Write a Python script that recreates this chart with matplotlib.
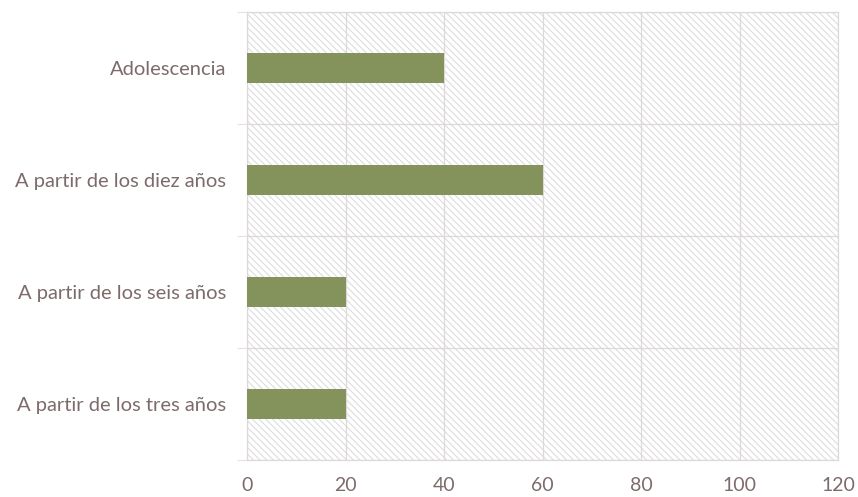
import numpy as np
import matplotlib
matplotlib.use('Agg')
import matplotlib.pyplot as plt
from matplotlib.patches import Rectangle

# categorias de abajo hacia arriba
categorias = ['A partir de los tres años', 'A partir de los seis años',
              'A partir de los diez años', 'Adolescencia']
valores = [20, 20, 60, 40]
xticks = [0, 20, 40, 60, 80, 100, 120]

color_barra = '#84935c'
color_texto = '#7d6b6b'
color_rejilla = '#e0d8d8'

plt.rcParams['font.family'] = ['Lato', 'DejaVu Sans']
plt.rcParams['hatch.linewidth'] = 0.8

fig = plt.figure(figsize=(8.58, 4.97), dpi=100)
ax = fig.add_axes([0.288, 0.0744, 0.689, 0.902])

y = np.arange(len(categorias))
ax.set_xlim(0, 120)
ax.set_ylim(-0.5, len(categorias) - 0.5)

# fondo rayado
fondo = Rectangle((0, 0), 1, 1, transform=ax.transAxes, facecolor='white',
                  edgecolor='#dddddd', linewidth=0, hatch='\\\\\\\\\\', zorder=0)
ax.add_patch(fondo)

ax.barh(y, valores, height=0.27, color=color_barra, zorder=3)

ax.set_xticks(xticks)
ax.set_yticks(y)
ax.set_yticklabels(categorias)
ax.set_yticks(np.arange(-0.5, len(categorias)), minor=True)
ax.grid(axis='x', color=color_rejilla, linewidth=0.9, zorder=1)
ax.grid(axis='y', which='minor', color=color_rejilla, linewidth=0.9, zorder=1)

ax.tick_params(axis='y', which='major', length=0, pad=15, labelsize=14.5, labelcolor=color_texto)
ax.tick_params(axis='y', which='minor', length=7, color=color_rejilla)
ax.tick_params(axis='x', length=0, pad=12, labelsize=14, labelcolor=color_texto)

for s in ax.spines.values():
    s.set_color(color_rejilla)
    s.set_linewidth(0.9)

fig.savefig('out.png', dpi=100)
